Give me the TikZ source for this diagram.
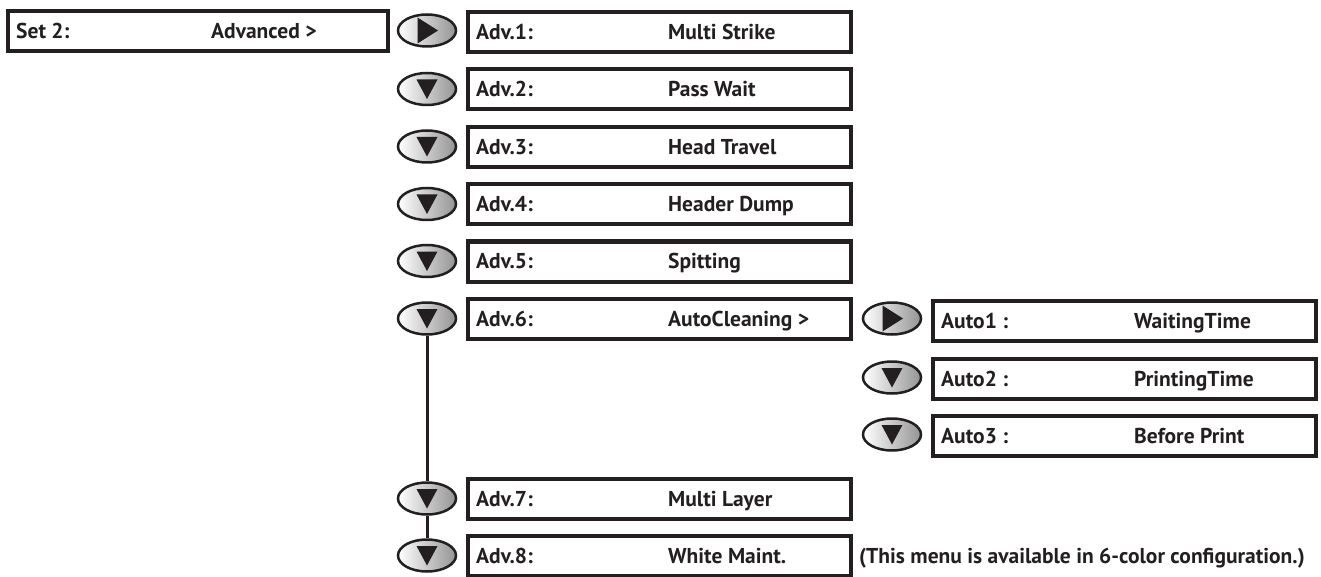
\documentclass[tikz,border=0pt]{standalone}
\usepackage{fontspec}
\setmainfont{PT Sans}
\usetikzlibrary{shapes.geometric,calc}
\definecolor{ink}{HTML}{231F20}
\tikzset{
  menubox/.style={draw=ink, line width=4pt, minimum width=383pt, minimum height=40pt, inner sep=0pt},
  btn/.style={ellipse, draw=ink, line width=2.5pt, minimum width=58pt, minimum height=32pt, inner sep=0pt, left color=white, right color=black!42},
  txt/.style={font=\bfseries\fontsize{21.5}{25}\selectfont, text=ink, inner sep=0pt, anchor=base west},
  conn/.style={draw=ink, line width=3pt},
  tri/.style={fill=ink},
}
\newcommand{\downtri}[1]{\fill[tri, shift={(#1.center)}] (-10.5,-9.5) -- (10.5,-9.5) -- (0,10) -- cycle;}
\newcommand{\righttri}[1]{\fill[tri, shift={(#1.center)}] (-9.5,-13) -- (11,0) -- (-9.5,13) -- cycle;}
\begin{document}
\begin{tikzpicture}[x=1pt,y=-1pt]
\useasboundingbox (0,0) rectangle (1321,577);
% Set 2
\node[menubox, minimum width=380pt] (set) at (198,31.5) {};
\node[txt] (setl) at ($(set.west)+(10,7.5)$) {Set 2:};
\node[txt] (setv) at ($(set.west)+(205,7.5)$) {Advanced >};
% middle column boxes
\node[menubox] (a1) at (659.5,32) {};
\node[menubox] (a2) at (659.5,89.5) {};
\node[menubox] (a3) at (659.5,147) {};
\node[menubox] (a4) at (659.5,204.5) {};
\node[menubox] (a5) at (659.5,261.5) {};
\node[menubox] (a6) at (659.5,319) {};
\node[menubox] (a7) at (659.5,499) {};
\node[menubox] (a8) at (659.5,556) {};
\foreach \n/\l/\v in {a1/Adv.1:/Multi Strike, a2/Adv.2:/Pass Wait, a3/Adv.3:/Head Travel, a4/Adv.4:/Header Dump, a5/Adv.5:/Spitting, a6/Adv.6:/AutoCleaning >, a7/Adv.7:/Multi Layer, a8/Adv.8:/White Maint.}{
  \node[txt] (\n l) at ($(\n.west)+(10,7.5)$) {\l};
  \node[txt] (\n v) at ($(\n.west)+(202,7.5)$) {\v};
}
% auto boxes
\node[menubox] (c1) at (1124.5,321) {};
\node[menubox] (c2) at (1124.5,378.5) {};
\node[menubox] (c3) at (1124.5,435.5) {};
\foreach \n/\l/\v in {c1/Auto1 :/WaitingTime, c2/Auto2 :/PrintingTime, c3/Auto3 :/Before Print}{
  \node[txt] (\n l) at ($(\n.west)+(10,7.5)$) {\l};
  \node[txt] (\n v) at ($(\n.west)+(203,7.5)$) {\v};
}
% buttons
\node[btn] (b1) at (427,30.5) {};
\node[btn] (b2) at (427,89) {};
\node[btn] (b3) at (427,146.5) {};
\node[btn] (b4) at (427,204) {};
\node[btn] (b5) at (427,261) {};
\node[btn] (b6) at (427,318.5) {};
\node[btn] (b7) at (427,498.5) {};
\node[btn] (b8) at (427,555.5) {};
\node[btn] (d1) at (892,318.5) {};
\node[btn] (d2) at (892,377.5) {};
\node[btn] (d3) at (892,434.5) {};
\righttri{b1}
\foreach \n in {b2,b3,b4,b5,b6,b7,b8,d2,d3}{\downtri{\n}}
\righttri{d1}
% connectors
\draw[conn] (b6.south) -- (b7.north);
\draw[conn] (b7.south) -- (b8.north);
% note
\node[txt] (note) at (859,563.5) {(This menu is available in 6-color configuration.)};
\end{tikzpicture}
\end{document}
